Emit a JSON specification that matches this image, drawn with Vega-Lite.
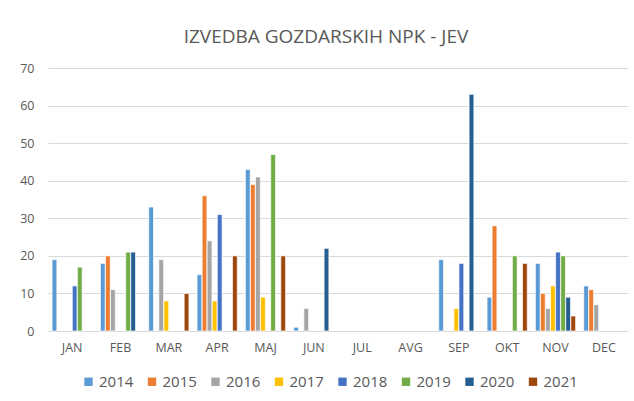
{
  "$schema": "https://vega.github.io/schema/vega-lite/v6.json",
  "width": 580,
  "height": 263,
  "autosize": {"type": "none"},
  "padding": {"left": 48, "top": 68, "right": 6, "bottom": 70},
  "background": "white",
  "title": {
    "text": "IZVEDBA GOZDARSKIH NPK - JEV",
    "font": "Open Sans",
    "fontSize": 19,
    "fontWeight": "normal",
    "color": "#595959",
    "anchor": "middle",
    "dx": -12,
    "offset": 15
  },
  "data": {
    "values": [
      {"mesec": "JAN", "leto": "2014", "vrednost": 19},
      {"mesec": "JAN", "leto": "2018", "vrednost": 12},
      {"mesec": "JAN", "leto": "2019", "vrednost": 17},
      {"mesec": "FEB", "leto": "2014", "vrednost": 18},
      {"mesec": "FEB", "leto": "2015", "vrednost": 20},
      {"mesec": "FEB", "leto": "2016", "vrednost": 11},
      {"mesec": "FEB", "leto": "2019", "vrednost": 21},
      {"mesec": "FEB", "leto": "2020", "vrednost": 21},
      {"mesec": "MAR", "leto": "2014", "vrednost": 33},
      {"mesec": "MAR", "leto": "2016", "vrednost": 19},
      {"mesec": "MAR", "leto": "2017", "vrednost": 8},
      {"mesec": "MAR", "leto": "2021", "vrednost": 10},
      {"mesec": "APR", "leto": "2014", "vrednost": 15},
      {"mesec": "APR", "leto": "2015", "vrednost": 36},
      {"mesec": "APR", "leto": "2016", "vrednost": 24},
      {"mesec": "APR", "leto": "2017", "vrednost": 8},
      {"mesec": "APR", "leto": "2018", "vrednost": 31},
      {"mesec": "APR", "leto": "2021", "vrednost": 20},
      {"mesec": "MAJ", "leto": "2014", "vrednost": 43},
      {"mesec": "MAJ", "leto": "2015", "vrednost": 39},
      {"mesec": "MAJ", "leto": "2016", "vrednost": 41},
      {"mesec": "MAJ", "leto": "2017", "vrednost": 9},
      {"mesec": "MAJ", "leto": "2019", "vrednost": 47},
      {"mesec": "MAJ", "leto": "2021", "vrednost": 20},
      {"mesec": "JUN", "leto": "2014", "vrednost": 1},
      {"mesec": "JUN", "leto": "2016", "vrednost": 6},
      {"mesec": "JUN", "leto": "2020", "vrednost": 22},
      {"mesec": "SEP", "leto": "2014", "vrednost": 19},
      {"mesec": "SEP", "leto": "2017", "vrednost": 6},
      {"mesec": "SEP", "leto": "2018", "vrednost": 18},
      {"mesec": "SEP", "leto": "2020", "vrednost": 63},
      {"mesec": "OKT", "leto": "2014", "vrednost": 9},
      {"mesec": "OKT", "leto": "2015", "vrednost": 28},
      {"mesec": "OKT", "leto": "2019", "vrednost": 20},
      {"mesec": "OKT", "leto": "2021", "vrednost": 18},
      {"mesec": "NOV", "leto": "2014", "vrednost": 18},
      {"mesec": "NOV", "leto": "2015", "vrednost": 10},
      {"mesec": "NOV", "leto": "2016", "vrednost": 6},
      {"mesec": "NOV", "leto": "2017", "vrednost": 12},
      {"mesec": "NOV", "leto": "2018", "vrednost": 21},
      {"mesec": "NOV", "leto": "2019", "vrednost": 20},
      {"mesec": "NOV", "leto": "2020", "vrednost": 9},
      {"mesec": "NOV", "leto": "2021", "vrednost": 4},
      {"mesec": "DEC", "leto": "2014", "vrednost": 12},
      {"mesec": "DEC", "leto": "2015", "vrednost": 11},
      {"mesec": "DEC", "leto": "2016", "vrednost": 7}
    ]
  },
  "mark": {"type": "bar", "stroke": "white", "strokeWidth": 0.7},
  "encoding": {
    "x": {
      "field": "mesec",
      "type": "nominal",
      "sort": null,
      "scale": {"domain": ["JAN","FEB","MAR","APR","MAJ","JUN","JUL","AVG","SEP","OKT","NOV","DEC"], "paddingInner": 0, "paddingOuter": 0},
      "axis": {
        "title": null,
        "labelAngle": 0,
        "labelFont": "Open Sans",
        "labelFontSize": 12.5,
        "labelColor": "#595959",
        "labelPadding": 10,
        "ticks": false,
        "domainColor": "#d9d9d9",
        "domainWidth": 1
      }
    },
    "xOffset": {
      "field": "leto",
      "type": "nominal",
      "scale": {"domain": ["2014","2015","2016","2017","2018","2019","2020","2021"], "paddingInner": 0.05, "paddingOuter": 0.8}
    },
    "y": {
      "field": "vrednost",
      "type": "quantitative",
      "scale": {"domain": [0, 70]},
      "axis": {
        "title": null,
        "values": [0,10,20,30,40,50,60,70],
        "labelFont": "Open Sans",
        "labelFontSize": 12.5,
        "labelColor": "#595959",
        "labelPadding": 14,
        "ticks": false,
        "domain": false,
        "gridColor": "#d9d9d9",
        "gridWidth": 1
      }
    },
    "color": {
      "field": "leto",
      "type": "nominal",
      "scale": {
        "domain": ["2014","2015","2016","2017","2018","2019","2020","2021"],
        "range": ["#5B9BD5","#ED7D31","#A5A5A5","#FFC000","#4472C4","#70AD47","#255E91","#9E480E"]
      },
      "legend": {
        "title": null,
        "orient": "none",
        "direction": "horizontal",
        "legendX": 33,
        "legendY": 306,
        "symbolType": "square",
        "symbolSize": 70,
        "symbolStrokeWidth": 0,
        "labelFont": "Open Sans",
        "labelFontSize": 15,
        "labelColor": "#595959",
        "columnPadding": 10.5,
        "labelOffset": 3
      }
    }
  },
  "config": {
    "view": {"stroke": null}
  }
}
